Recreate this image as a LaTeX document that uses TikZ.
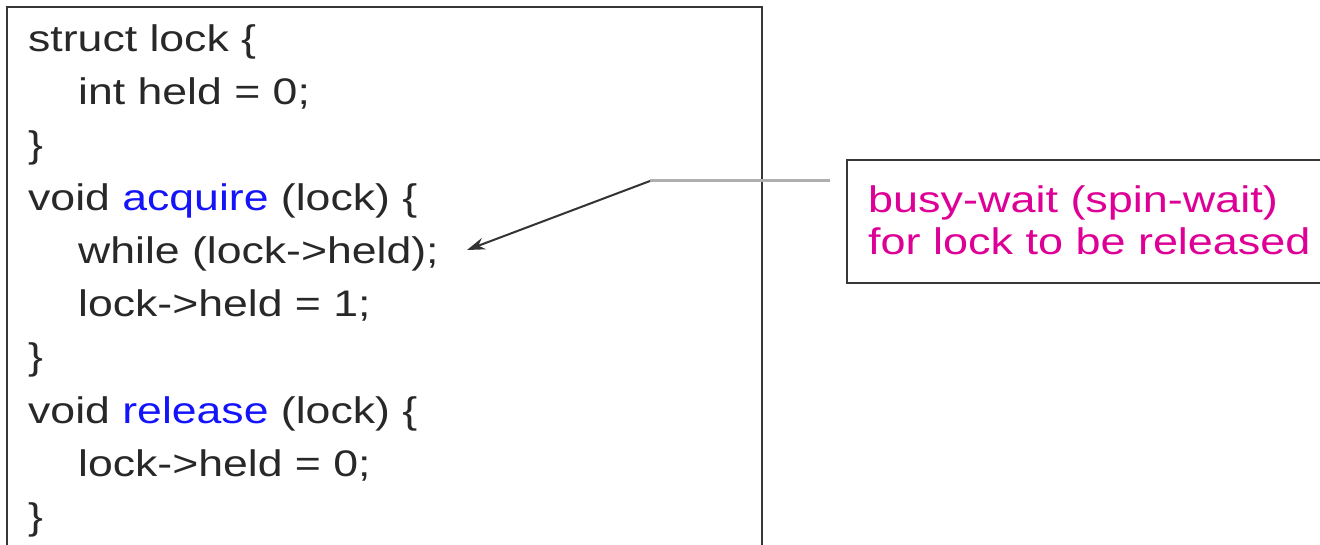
\documentclass[tikz,border=0pt]{standalone}
\usepackage{fontspec}
\usepackage{graphicx}
\setmainfont{Liberation Sans}
\usetikzlibrary{arrows.meta}
\definecolor{kwblue}{RGB}{20,20,250}
\definecolor{notepink}{RGB}{222,0,150}
\definecolor{boxline}{RGB}{55,55,55}
\definecolor{codetext}{RGB}{40,40,40}
\definecolor{leadgray}{RGB}{175,175,175}
\newcommand\widetext[1]{\scalebox{1.205}[1]{#1}}
\newcommand\widenote[1]{\scalebox{1.215}[1]{#1}}
\tikzset{
  codeline/.style={anchor=base west, inner sep=0pt, text=codetext, font=\fontsize{37}{42}\selectfont},
  noteline/.style={anchor=base west, inner sep=0pt, font=\fontsize{37}{42}\selectfont, text=notepink},
  frame/.style={draw=boxline, line width=2.6pt}
}
\begin{document}
\begin{tikzpicture}[x=1pt,y=-1pt]
\useasboundingbox (0,0) rectangle (1320,545);
\clip (0,0) rectangle (1320,545);
% code box
\draw[frame] (7,600) -- (7,7) -- (762,7) -- (762,600);
\node[codeline] (l1) at (28,52) {\widetext{struct lock \{}};
\node[codeline] (l2) at (78,105) {\widetext{int held = 0;}};
\node[codeline] (l3) at (28,158) {\widetext{\}}};
\node[codeline] (l4) at (28,211) {\widetext{void \textcolor{kwblue}{acquire} (lock) \{}};
\node[codeline] (l5) at (78,264) {\widetext{while (lock->held);}};
\node[codeline] (l6) at (78,317) {\widetext{lock->held = 1;}};
\node[codeline] (l7) at (28,370) {\widetext{\}}};
\node[codeline] (l8) at (28,423) {\widetext{void \textcolor{kwblue}{release} (lock) \{}};
\node[codeline] (l9) at (78,476) {\widetext{lock->held = 0;}};
\node[codeline] (l10) at (28,529) {\widetext{\}}};
% note box
\draw[frame] (1340,160) -- (847,160) -- (847,283) -- (1340,283);
\node[noteline] (n1) at (868,213) {\widenote{busy-wait (spin-wait)}};
\node[noteline] (n2) at (868,255) {\widenote{for lock to be released}};
% leader
\coordinate (start) at (830,181);
\coordinate (bend) at (650,181);
\coordinate (tip) at (467,250);
\draw[leadgray, line width=3pt] (start) -- (bend);
\draw[black!80, line width=2pt, -{Stealth[length=18pt,width=12pt]}] (bend) -- (tip);
\end{tikzpicture}
\end{document}
